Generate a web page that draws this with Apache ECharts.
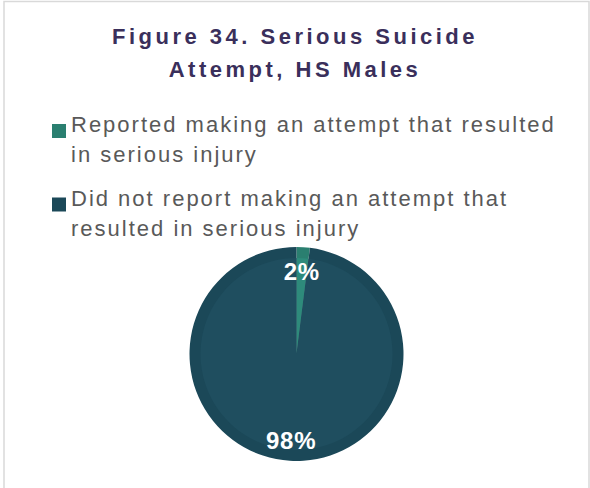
<!DOCTYPE html>
<html>
<head>
<meta charset="utf-8">
<script src="https://cdn.jsdelivr.net/npm/echarts@6/dist/echarts.min.js"></script>
<style>
html,body{margin:0;padding:0;background:#fff;}
#chart{width:590px;height:488px;}
#chart text[style*="Arimo"], #chart text[font-family*="Arimo"]{letter-spacing:3.5px;}
#chart text[style*="Liberation Sans"], #chart text[font-family*="Liberation Sans"]{letter-spacing:2px;}
#chart text[style*="Helvetica"], #chart text[font-family*="Helvetica"]{letter-spacing:0.8px;}
</style>
</head>
<body>
<div id="chart"></div>
<script>
const titleText = 'Figure 34. Serious Suicide\nAttempt, HS Males';
const categories = [
  'Reported making an attempt that resulted in serious injury',
  'Did not report making an attempt that resulted in serious injury'
];
const legendLines = [
  ['Reported making an attempt that resulted', 'in serious injury'],
  ['Did not report making an attempt that', 'resulted in serious injury']
];
const values = [2, 98];
const labels = ['2%', '98%'];
const colors = ['#2E8B7B', '#1F4E5F'];
const rimColors = ['#2A7F70', '#1B4858'];

const chart = echarts.init(document.getElementById('chart'), null, {renderer: 'svg'});
const mkData = (cols) => categories.map((c, i) => ({name: c, value: values[i], itemStyle: {color: cols[i]}}));

chart.setOption({
  animation: false,
  graphic: [{
    type: 'rect', silent: true, z: -10,
    shape: {x: 4, y: 1.5, width: 585, height: 520},
    style: {fill: 'none', stroke: '#D9D9D9', lineWidth: 1.5}
  }],
  title: {
    text: titleText,
    left: 'center', top: 15,
    textStyle: {fontFamily: 'Arimo, Arial', fontSize: 22, fontWeight: 'bold', color: '#3A2F5B', lineHeight: 33}
  },
  legend: {
    orient: 'vertical', left: 47, top: 91,
    itemWidth: 14, itemHeight: 14, itemGap: 4,
    icon: 'rect',
    data: categories,
    formatter: (n) => {
      const l = legendLines[categories.indexOf(n)];
      return '{s| }\n{t|' + l[0] + '}\n{t|' + l[1] + '}';
    },
    textStyle: {
      fontFamily: 'Liberation Sans', fontSize: 22, color: '#595959',
      rich: {
        s: {fontFamily: 'Liberation Sans', fontSize: 10, lineHeight: 17},
        t: {fontFamily: 'Liberation Sans', fontSize: 22, color: '#595959', lineHeight: 30}
      }
    }
  },
  series: [
    {
      type: 'pie', center: [296.5, 354], radius: [0, 107],
      startAngle: 90, clockwise: true, silent: true,
      label: {show: false}, labelLine: {show: false},
      data: mkData(rimColors)
    },
    {
      type: 'pie', center: [296.5, 354], radius: [0, 96],
      startAngle: 90, clockwise: true, silent: true,
      label: {show: false}, labelLine: {show: false},
      data: mkData(colors)
    },
    {
      type: 'pie', center: [296.5, 356], radius: [57, 107],
      startAngle: 90, clockwise: true, silent: true,
      itemStyle: {color: 'rgba(0,0,0,0)'},
      label: {
        show: true, position: 'inside',
        formatter: (p) => labels[p.dataIndex],
        fontFamily: 'Helvetica', fontSize: 24, fontWeight: 'bold', color: '#FFFFFF'
      },
      labelLine: {show: false},
      data: categories.map((c, i) => ({name: c, value: values[i]}))
    }
  ]
});
</script>
</body>
</html>
